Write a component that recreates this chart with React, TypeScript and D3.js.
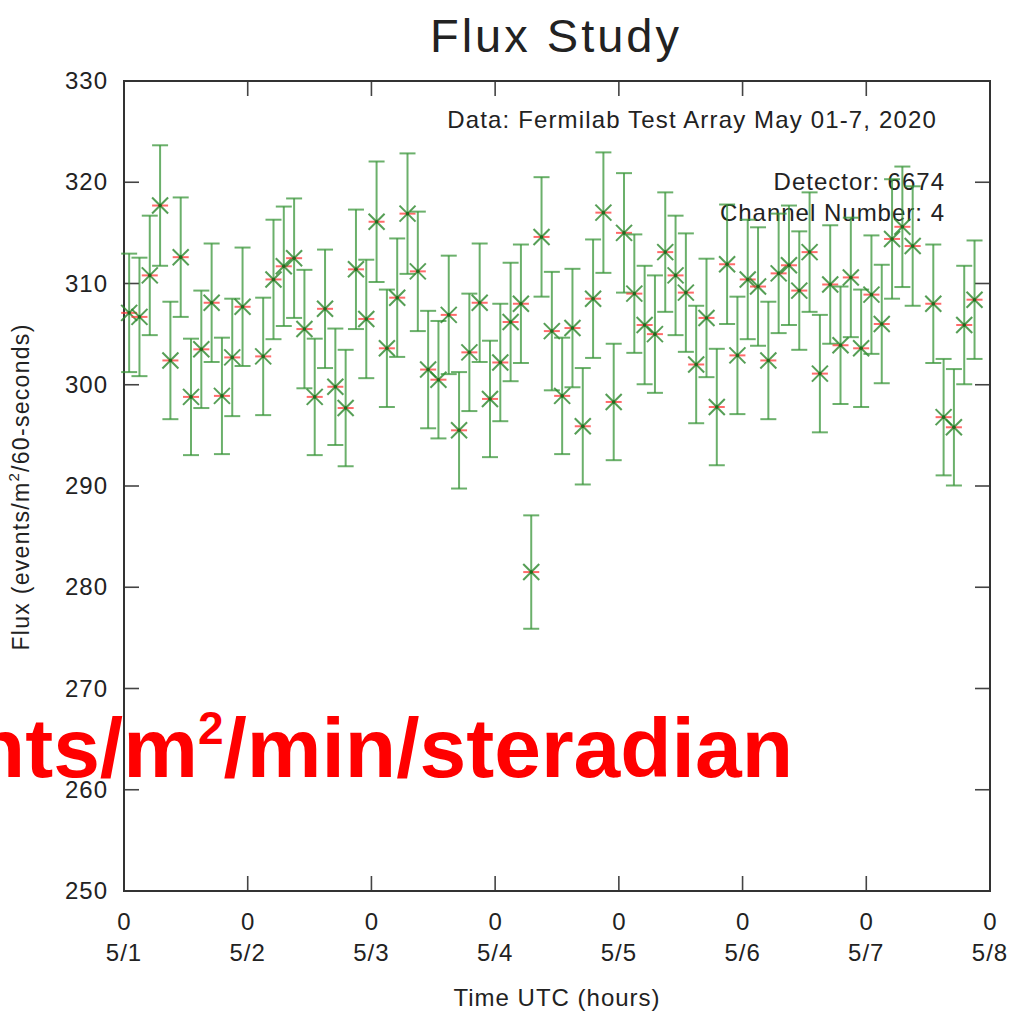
import React from "react";
import * as d3 from "d3";

const hours = [1, 3, 5, 7, 9, 11, 13, 15, 17, 19, 21, 23,
  27, 29, 31, 33, 35, 37, 39, 41, 43, 45, 47, 49, 51, 53, 55, 57, 59, 61, 63, 65, 67, 69, 71, 73, 75, 77, 79,
  81, 83, 85, 87, 89, 91, 93, 95, 97, 99, 101, 103, 105, 107, 109, 111, 113, 115, 117, 119, 121, 123, 125,
  127, 129, 131, 133, 135, 137, 139, 141, 143, 145, 147, 149, 151, 153,
  157, 159, 161, 163, 165];

const flux = [307.1, 306.7, 310.8, 317.7, 302.4, 312.6, 298.8, 303.5, 308.1, 298.9, 302.7, 307.7,
  302.8, 310.4, 311.7, 312.5, 305.5, 298.8, 307.5, 299.8, 297.7, 311.4, 306.5, 316.1, 303.6, 308.6, 316.9, 311.2, 301.5, 300.5, 306.9, 295.5, 303.2, 308.1, 298.6, 302.2, 306.2, 308.0, 281.5,
  314.6, 305.3, 298.9, 305.6, 295.9, 308.5, 317.0, 298.3, 315.0, 309.0, 305.9, 305.0, 313.1, 310.8, 309.1, 302.0, 306.6, 297.8, 311.9, 302.9, 310.4, 309.7, 302.4,
  311.0, 311.8, 309.3, 313.1, 301.1, 309.9, 303.9, 310.6, 303.6, 308.9, 306.0, 314.4, 315.6, 313.7,
  308.0, 296.8, 295.8, 305.9, 308.4];

const errs = [5.85, 5.85, 5.9, 5.95, 5.8, 5.9, 5.75, 5.8, 5.85, 5.75, 5.8, 5.85,
  5.8, 5.9, 5.9, 5.9, 5.85, 5.75, 5.85, 5.75, 5.75, 5.9, 5.85, 5.95, 5.8, 5.85, 5.95, 5.9, 5.8, 5.8, 5.85, 5.75, 5.8, 5.85, 5.75, 5.8, 5.85, 5.85, 5.6,
  5.9, 5.85, 5.75, 5.85, 5.75, 5.85, 5.95, 5.75, 5.9, 5.85, 5.85, 5.8, 5.9, 5.9, 5.85, 5.8, 5.85, 5.75, 5.9, 5.8, 5.9, 5.85, 5.8,
  5.9, 5.9, 5.85, 5.9, 5.8, 5.85, 5.8, 5.9, 5.8, 5.85, 5.85, 5.9, 5.95, 5.9,
  5.85, 5.75, 5.75, 5.85, 5.85];

const yTicks = [250, 260, 270, 280, 290, 300, 310, 320, 330];
const xTickHours = [0, 24, 48, 72, 96, 120, 144, 168];
const xTickDates = ["5/1", "5/2", "5/3", "5/4", "5/5", "5/6", "5/7", "5/8"];

const W = 1009, H = 1016;
const L = 124, R = 990, T = 81, B = 891;
const FONT = "'Liberation Sans', Arial, Helvetica, sans-serif";

export default function App() {
  const x = d3.scaleLinear().domain([0, 168]).range([L, R]);
  const y = d3.scaleLinear().domain([250, 330]).range([B, T]);
  const tick = 15;
  const cap = 8;
  const mk = 8;
  const textFill = "#222";
  return (
    <div style={{ position: "absolute", left: 0, top: 0 }}>
      <svg width={W} height={H} style={{ display: "block", background: "#fff" }}>
        <rect x={0} y={0} width={W} height={H} fill="#fff" />
        {/* title */}
        <text x={556} y={52} textAnchor="middle" fontFamily={FONT} fontSize={47} fill={textFill} letterSpacing={3}>Flux Study</text>

        {/* ticks */}
        {yTicks.map((t) => (
          <g key={"y" + t}>
            <line x1={L} x2={L + tick} y1={y(t)} y2={y(t)} stroke="#444" strokeWidth={1.6} />
            <line x1={R} x2={R - tick} y1={y(t)} y2={y(t)} stroke="#444" strokeWidth={1.6} />
            <text x={108} y={y(t) + 8} textAnchor="end" fontFamily={FONT} fontSize={24} fill={textFill} letterSpacing={1}>{t}</text>
          </g>
        ))}
        {xTickHours.map((h, i) => (
          <g key={"x" + h}>
            <line x1={x(h)} x2={x(h)} y1={B} y2={B - tick} stroke="#444" strokeWidth={1.6} />
            <line x1={x(h)} x2={x(h)} y1={T} y2={T + tick} stroke="#444" strokeWidth={1.6} />
            <text x={x(h)} y={930} textAnchor="middle" fontFamily={FONT} fontSize={24} fill={textFill}>{h % 24}</text>
            <text x={x(h)} y={961} textAnchor="middle" fontFamily={FONT} fontSize={24} fill={textFill} letterSpacing={1}>{xTickDates[i]}</text>
          </g>
        ))}

        {/* frame */}
        <rect x={L} y={T} width={R - L} height={B - T} fill="none" stroke="#333" strokeWidth={2} />

        {/* annotations */}
        <text x={937} y={128} textAnchor="end" fontFamily={FONT} fontSize={24} fill={textFill} letterSpacing={1.15}>Data: Fermilab Test Array May 01-7, 2020</text>
        <text x={945} y={190} textAnchor="end" fontFamily={FONT} fontSize={24} fill={textFill} letterSpacing={1}>Detector: 6674</text>
        <text x={945} y={221} textAnchor="end" fontFamily={FONT} fontSize={24} fill={textFill} letterSpacing={1}>Channel Number: 4</text>

        {/* data */}
        {hours.map((h, i) => {
          const cx = x(h);
          const cy = y(flux[i]);
          const y1 = y(flux[i] + errs[i]);
          const y2 = y(flux[i] - errs[i]);
          return (
            <g key={"p" + i}>
              <g stroke="#3a963a" strokeWidth={2} strokeOpacity={0.75} fill="none">
                <line x1={cx} x2={cx} y1={y1} y2={y2} />
                <line x1={cx - cap} x2={cx + cap} y1={y1} y2={y1} />
                <line x1={cx - cap} x2={cx + cap} y1={y2} y2={y2} />
              </g>
              <g stroke="#2a862a" strokeWidth={2} strokeOpacity={0.8}>
                <line x1={cx - mk} x2={cx + mk} y1={cy - mk} y2={cy + mk} />
                <line x1={cx - mk} x2={cx + mk} y1={cy + mk} y2={cy - mk} />
              </g>
              <line x1={cx - mk} x2={cx + mk} y1={cy} y2={cy} stroke="#ff3a3a" strokeWidth={2} strokeOpacity={0.75} />
              <circle cx={cx} cy={cy} r={1.8} fill="#1f6a1f" />
            </g>
          );
        })}

        {/* y label */}
        <text transform={`translate(29,487) rotate(-90)`} textAnchor="middle" fontFamily={FONT} fontSize={23} fill={textFill} letterSpacing={1.3}>
          Flux (events/m<tspan dy={-10} fontSize={15}>2</tspan><tspan dy={10}>/60-seconds)</tspan>
        </text>

        {/* x label */}
        <text x={557} y={1006} textAnchor="middle" fontFamily={FONT} fontSize={24} fill={textFill} letterSpacing={1}>Time UTC (hours)</text>

        {/* red overlay */}
        <text x={793} y={777} textAnchor="end" fontFamily={FONT} fontWeight="bold" fontSize={84} fill="#ff0000">
          nts/m<tspan dy={-33} fontSize={46}>2</tspan><tspan dy={33}>/min/steradian</tspan>
        </text>
      </svg>
    </div>
  );
}
